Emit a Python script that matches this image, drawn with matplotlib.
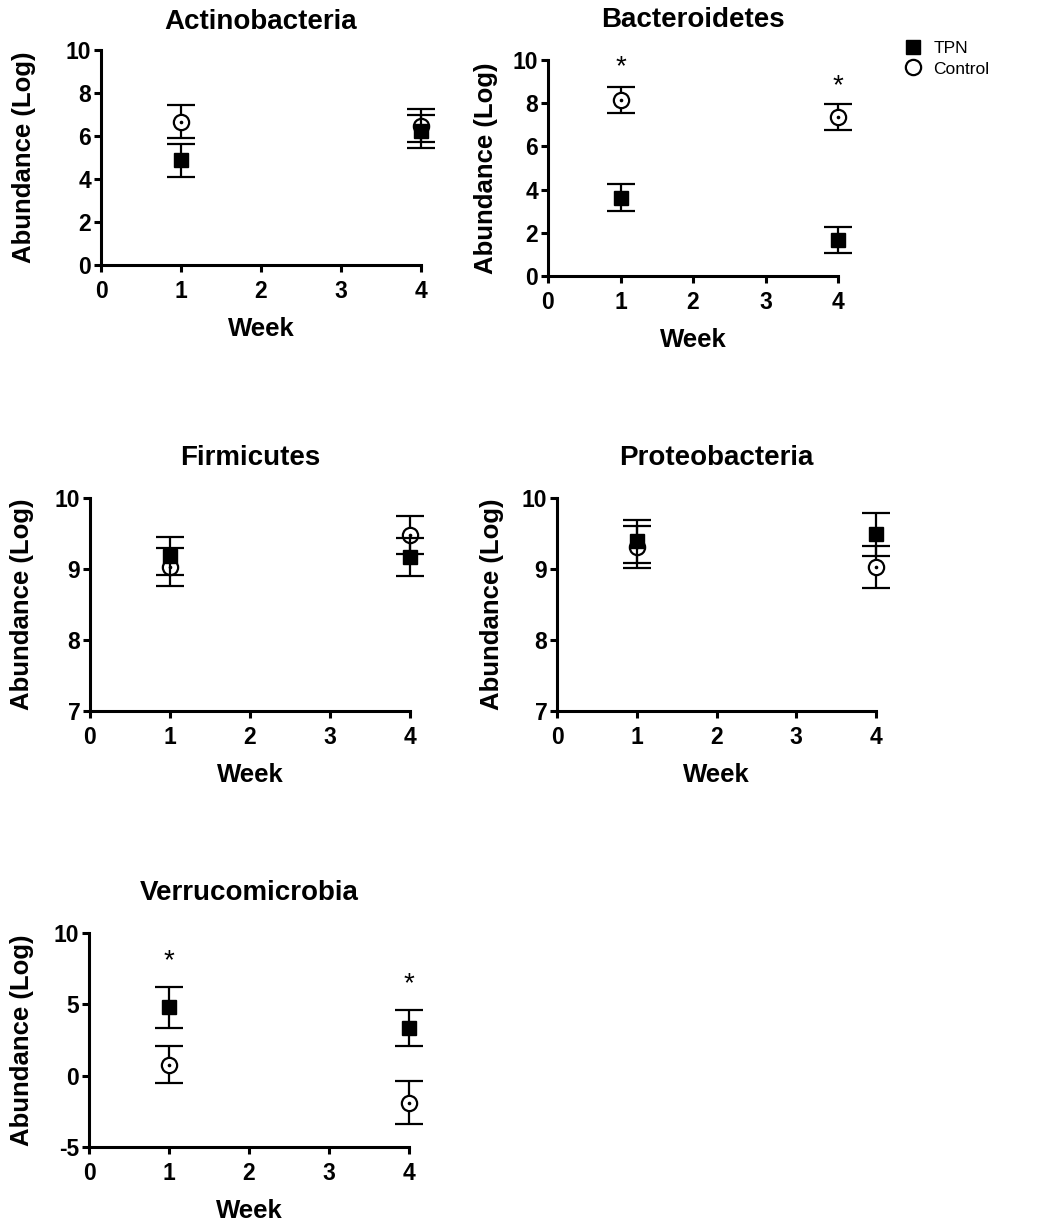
import matplotlib
matplotlib.use('Agg')
import matplotlib.pyplot as plt
import matplotlib.transforms as mtransforms
from matplotlib.lines import Line2D

plt.rcParams['font.family'] = ['Liberation Sans', 'DejaVu Sans']
plt.rcParams['font.weight'] = 'bold'
plt.rcParams['axes.labelweight'] = 'bold'
plt.rcParams['axes.titleweight'] = 'bold'
plt.rcParams['axes.unicode_minus'] = False

# ---------------- data ----------------
phyla = ['Actinobacteria', 'Bacteroidetes', 'Firmicutes', 'Proteobacteria', 'Verrucomicrobia']
weeks = [1, 4]
x_ticks = [0, 1, 2, 3, 4]

tpn_mean = [[4.88, 6.22], [3.63, 1.67], [9.18, 9.17], [9.39, 9.49], [4.78, 3.35]]
tpn_sem = [[0.77, 0.78], [0.61, 0.62], [0.27, 0.27], [0.30, 0.30], [1.45, 1.25]]
ctrl_mean = [[6.67, 6.48], [8.15, 7.38], [9.03, 9.48], [9.31, 9.03], [0.77, -1.90]]
ctrl_sem = [[0.77, 0.78], [0.60, 0.60], [0.27, 0.27], [0.30, 0.30], [1.30, 1.50]]

y_limits = [(0, 10), (0, 10), (7, 10), (7, 10), (-5, 10)]
y_ticks = [[0, 2, 4, 6, 8, 10], [0, 2, 4, 6, 8, 10], [7, 8, 9, 10], [7, 8, 9, 10], [-5, 0, 5, 10]]

# significance asterisks (y position of asterisk centre, per week)
star_y = [None, [9.86, 8.98], None, None, [8.30, 6.67]]

legend_labels = ['TPN', 'Control']
x_label = 'Week'
y_label = 'Abundance (Log)'

# ---------------- layout (pixels) ----------------
W, H = 1050, 1224
# left, top, right, bottom in pixels
boxes = [(101, 50, 421, 265), (548, 60, 838, 276), (90, 498, 410, 711),
         (557, 498, 876, 711), (89, 933, 409, 1147)]
title_pad_px = [21, 33, 33, 33, 33]
ylabel_right_px = [36, 498, 34, 504, 34]

fig = plt.figure(figsize=(W / 100, H / 100), dpi=100)

for i, name in enumerate(phyla):
    l, t, r, b = boxes[i]
    ax = fig.add_axes([l / W, 1 - b / H, (r - l) / W, (b - t) / H])
    wpx, hpx = r - l, b - t

    # control
    ax.errorbar(weeks, ctrl_mean[i], yerr=ctrl_sem[i], fmt='none', ecolor='black',
                elinewidth=1.6, capsize=10, capthick=1.6, zorder=3, clip_on=False)
    ax.plot(weeks, ctrl_mean[i], linestyle='none', marker='o', markersize=11,
            markerfacecolor='white', markeredgecolor='black', markeredgewidth=1.6,
            zorder=4, clip_on=False)
    ax.plot(weeks, ctrl_mean[i], linestyle='none', marker='o', markersize=1.6,
            color='black', zorder=4.5, clip_on=False)
    # TPN
    ax.errorbar(weeks, tpn_mean[i], yerr=tpn_sem[i], fmt='none', ecolor='black',
                elinewidth=1.6, capsize=10, capthick=1.6, zorder=5, clip_on=False)
    ax.plot(weeks, tpn_mean[i], linestyle='none', marker='s', markersize=10.5,
            color='black', zorder=6, clip_on=False)

    if star_y[i] is not None:
        tr = mtransforms.offset_copy(ax.transData, fig=fig, y=-11, units='dots')
        for xw, ys in zip(weeks, star_y[i]):
            ax.text(xw, ys, '*', transform=tr, ha='center', va='baseline',
                    fontsize=20, fontweight='normal', clip_on=False)

    ax.set_xlim(0, 4)
    ax.set_ylim(*y_limits[i])
    ax.set_xticks(x_ticks)
    ax.set_yticks(y_ticks[i])
    for s in ['top', 'right']:
        ax.spines[s].set_visible(False)
    for s in ['left', 'bottom']:
        ax.spines[s].set_linewidth(2.2)
    ax.tick_params(axis='both', direction='out', length=5, width=2.2, labelsize=16.5)
    ax.tick_params(axis='x', pad=6)
    ax.tick_params(axis='y', pad=2)

    ax.set_title(name, fontsize=20, pad=title_pad_px[i] * 0.72)
    ax.set_xlabel(x_label, fontsize=18.5, va='baseline')
    ax.xaxis.set_label_coords(0.5, -71 / hpx)
    ax.set_ylabel(y_label, fontsize=18.5)
    ax.yaxis.set_label_coords((ylabel_right_px[i] - l) / wpx, 0.5)

handles = [Line2D([], [], linestyle='none', marker='s', markersize=10, color='black'),
           Line2D([], [], linestyle='none', marker='o', markersize=11, markerfacecolor='white',
                  markeredgecolor='black', markeredgewidth=1.6)]
fig.legend(handles, legend_labels, loc='upper left', bbox_to_anchor=(904 / W, 1 - 41 / H),
           frameon=False, prop={'size': 12.5, 'weight': 'normal'}, handlelength=1.0,
           handletextpad=0.7, labelspacing=0.3, borderpad=0, borderaxespad=0)

fig.savefig('out.png', dpi=100)
